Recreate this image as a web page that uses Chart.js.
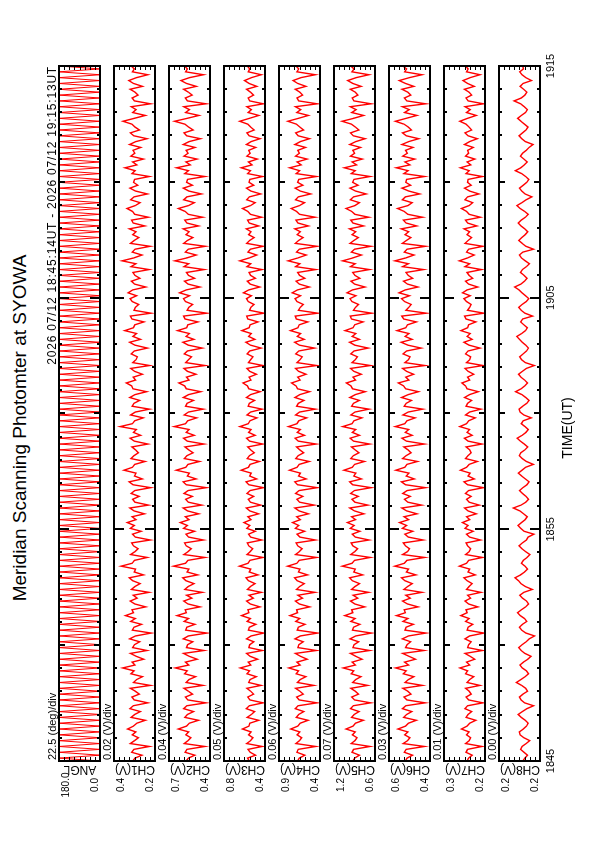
<!DOCTYPE html>
<html>
<head>
<meta charset="UTF-8" />
<title>Meridian Scanning Photomter at SYOWA</title>
<style>
  html, body { margin: 0; padding: 0; background: #fff; overflow: hidden; }
  body { width: 595px; height: 842px; position: relative; font-family: "Liberation Sans", Arial, Helvetica, sans-serif; }
  /* the plot is laid out in landscape and turned a quarter left */
  #land { position: absolute; left: 0; top: 842px; width: 842px; height: 595px; transform-origin: 0 0; transform: rotate(-90deg); }
  #land canvas { position: absolute; }
  .t { position: absolute; white-space: nowrap; color: #000; line-height: 1; }
</style>
</head>
<body>
<div id="land"></div>
<script src="https://cdn.jsdelivr.net/npm/chart.js"></script>
<script>
const title = 'Meridian Scanning Photomter at SYOWA';
const period = '2026 07/12 18:45:14UT - 2026 07/12 19:15:13UT';
const timeTitle = 'TIME(UT)';
const timeLabels = ['1845', '1855', '1905', '1915'];
const spanMin = 30;

const names = ['ANGL', 'CH1(V)', 'CH2(V)', 'CH3(V)', 'CH4(V)', 'CH5(V)', 'CH6(V)', 'CH7(V)', 'CH8(V)'];
const perDiv = [22.5, 0.02, 0.04, 0.05, 0.06, 0.07, 0.03, 0.01, 0.004];
const yMin = [0, 0.24, 0.38, 0.40, 0.42, 0.60, 0.36, 0.20, 0.180];
const yMax = [180, 0.40, 0.70, 0.80, 0.90, 1.16, 0.60, 0.28, 0.212];

// scan angle (deg), turning points
const angl = [
  0,180,0,180,0,180,0,180,0,180,0,180,0,180,0,180,0,180,0,180,
  0,180,0,180,0,180,0,180,0,180,0,180,0,180,0,180,0,180,0,180,
  0,180,0,180,0,180,0,180,0,180,0,180,0,180,0,180,0,180,0,180,
  0,180,0,180,0,180,0,180,0,180,0,180,0,180,0,180,0,180,0,180,
  0,180,0,180,0,180,0,180,0,180,0,180,0,180,0,180,0,180,0,180,
  0,180,0,180,0,180,0,180,0,180,0,180,0,180,0,180,0,180,0,180,
  0,180,0,180,0,180,0,180,0,180,0,180,0,180,0,180,0,180,0,180,
  0,180,0,180,0,180,0,180,0,180,0,180,0,180,0,180,0,180,0,180,
  0,180,0,180,0,180,0,180,0,180,0,180,0,180,0,180,0,180,0,180,
  0,180,0,180,0,180,0,180,0,180,0,180,0,180,0,180,0,180,0,180,
  0,180,0,180,0,180,0,180,0,180,0,180,0,180,0,180,0,180,0,180,
  0,180,0,180,0,180,0,180,0,180,0,180,0,180,0,180,0,180,0,180
];

// channel outputs in mV (CH8 in 0.1 mV)
const ch1 = [
  327,318,291,331,322,262,336,320,305,329, 315,347,324,311,278,333,319,297,338,325,
  268,321,330,301,317,336,258,324,312,289, 334,322,366,318,329,284,313,336,271,327,
  320,300,339,316,255,328,322,293,335,317, 355,324,330,276,319,337,310,325,264,332,
  318,298,327,340,285,321,316,372,329,320, 270,335,318,306,324,331,259,317,328,294,
  336,321,348,314,329,281,322,338,266,318, 327,302,333,319,257,326,341,290,320,314,
  361,328,319,279,334,322,305,316,330,268, 321,337,296,324,313,376,328,319,286,335,
  317,262,329,322,300,338,318,273,326,331, 352,316,325,289,320,335,261,327,314,309,
  333,321,270,318,339,297,326,312,358,324, 319,283,330,336,256,322,317,304,329,337,
  312,345,327,276,320,332,299,318,326,263, 334,315,368,323,291,329,318,259,336,321,
  303,327,314,340,280,325,331,266,319,328, 349,317,298,335,322,270,316,338,307,324,
  320,262,330,318,357,311,327,285,334,319, 326,296,339,315,271,323,336,301,318,330,
  365,321,278,327,314,333,258,320,329,306, 318,337,289,324,342,312,268,328,321,333
];
const ch2 = [
  566,548,498,574,560,421,581,552,530,569, 547,628,563,541,470,577,556,509,585,561,
  412,553,572,517,549,583,436,566,544,492, 579,558,651,546,571,480,542,586,428,563,
  555,515,588,549,404,570,561,497,582,548, 637,565,574,458,552,584,522,563,440,577,
  550,505,568,592,476,559,545,665,571,553, 419,584,551,526,566,579,431,547,568,501,
  586,557,612,544,572,468,555,589,445,549, 570,518,583,552,408,565,590,489,557,541,
  644,569,552,462,581,560,512,546,576,427, 558,587,503,566,543,659,570,554,484,582,
  548,433,571,559,509,588,547,452,565,578, 622,544,563,490,556,583,418,569,547,524,
  581,556,441,549,592,506,567,541,633,562, 553,474,575,586,405,558,545,515,571,587,
  540,618,566,459,552,579,500,548,563,426, 583,546,654,561,488,573,550,416,585,557,
  514,567,543,590,470,561,577,437,550,574, 627,548,503,585,560,447,545,588,518,562,
  556,420,577,549,641,534,568,481,584,551, 566,498,589,543,455,562,583,512,547,575,
  656,559,466,571,541,584,411,556,572,519, 549,586,487,563,607,540,432,570,556,580
];
const ch3 = [
  552,571,493,545,566,428,579,541,518,560, 537,620,556,549,461,574,533,502,582,553,
  418,547,568,511,540,577,439,559,546,485, 575,550,641,538,563,472,545,580,426,557,
  549,509,581,536,412,562,552,490,574,543, 628,558,567,450,544,579,515,556,437,571,
  542,498,561,585,468,553,539,649,566,547, 421,576,545,520,559,572,433,540,561,495,
  578,549,605,537,566,462,548,583,441,543, 563,511,576,545,415,558,584,482,550,535,
  633,562,546,455,574,552,505,540,569,423, 551,580,497,560,536,644,563,547,478,575,
  541,429,564,552,502,581,540,447,558,571, 615,537,556,484,549,576,420,562,540,517,
  574,549,438,542,586,499,560,534,625,555, 546,468,568,579,410,551,538,508,564,580,
  533,610,559,452,545,572,493,541,556,430, 576,539,646,554,481,566,543,419,578,550,
  507,560,536,583,463,554,570,432,543,567, 619,541,496,578,553,442,538,581,511,555,
  549,424,570,542,632,527,561,475,577,544, 559,491,582,536,449,555,576,505,540,568,
  647,552,460,564,534,577,416,549,565,512, 542,579,480,556,600,533,436,563,549,573
];
const ch4 = [
  683,662,598,691,675,470,702,660,635,688, 657,762,681,652,560,697,669,610,710,677,
  455,664,693,617,655,705,492,684,651,585, 699,671,785,653,690,571,648,708,463,679,
  667,616,712,650,448,686,674,596,703,658, 771,683,694,540,661,708,625,679,480,696,
  659,604,687,717,566,672,655,798,690,664, 460,706,662,630,681,700,475,655,688,600,
  709,668,742,651,693,556,664,714,488,660, 690,621,705,665,452,682,715,582,671,649,
  778,688,663,548,704,676,612,657,695,466, 674,711,603,686,650,790,690,668,575,706,
  660,474,694,674,609,713,656,541,683,701, 752,652,680,584,670,707,458,689,655,628,
  703,669,485,661,717,604,687,648,766,678, 664,563,697,710,446,673,652,617,690,712,
  648,746,684,545,663,700,598,659,682,470, 706,657,793,679,582,695,662,455,709,671,
  618,688,651,715,556,677,701,478,660,694, 758,660,602,707,674,530,652,711,622,683,
  669,462,698,658,776,640,688,571,705,662, 680,590,713,650,543,676,704,613,655,696,
  796,673,556,692,647,707,452,670,689,623, 656,709,585,681,735,643,476,690,669,702
];
const ch5 = [
  903,878,812,914,893,668,926,874,845,909, 871,996,900,866,760,921,884,818,935,897,
  660,880,917,826,870,930,702,906,864,793, 925,890,1032,868,912,776,862,936,672,901,
  885,824,940,864,648,908,893,806,929,872, 1012,904,918,740,876,934,835,899,688,920,
  873,811,910,946,768,889,869,1048,914,880, 664,932,877,838,902,925,682,868,911,808,
  937,884,978,866,919,752,881,944,697,874, 914,829,932,881,652,905,946,787,890,862,
  1024,911,879,745,931,896,820,871,921,673, 893,940,812,909,864,1040,913,887,779,930,
  874,683,920,895,815,943,869,733,907,928, 990,866,901,789,888,934,662,914,869,840,
  931,885,694,875,947,812,911,862,1008,899, 878,763,922,938,645,894,866,826,915,941,
  860,982,907,738,879,928,806,873,904,676, 935,870,1044,903,786,922,878,657,940,889,
  828,912,864,949,757,900,930,687,874,918, 996,874,813,937,893,722,866,942,831,906,
  887,668,924,871,1018,852,913,774,935,879, 902,797,945,862,736,897,934,820,868,921,
  1050,893,755,917,859,938,654,888,912,834, 869,938,790,903,972,857,684,915,886,930
];
const ch6 = [
  505,494,462,511,500,392,517,491,478,508, 489,548,503,486,440,514,497,467,521,502,
  388,495,512,471,490,519,405,506,487,455, 516,499,561,485,509,445,483,520,395,503,
  494,473,522,486,384,506,500,458,518,489, 556,504,511,430,492,521,476,501,408,513,
  491,464,507,527,443,498,486,566,510,495, 391,520,492,480,504,516,400,487,507,461,
  522,497,538,485,512,436,496,525,410,490, 509,475,519,494,386,503,527,452,499,483,
  560,508,495,433,520,500,471,489,513,393, 498,524,464,505,485,563,508,495,447,518,
  488,402,511,499,468,526,487,428,503,515, 545,484,502,456,497,520,389,507,486,477,
  518,497,412,489,529,465,506,483,553,502, 492,440,514,525,382,501,484,470,509,527,
  480,541,505,431,492,515,462,488,501,398, 521,487,565,502,454,510,494,386,522,498,
  472,506,485,528,438,500,516,404,490,511, 550,489,465,522,504,420,484,524,474,502,
  497,392,513,488,557,478,507,449,520,493, 503,459,525,485,426,499,521,469,487,512,
  562,500,437,509,482,522,385,496,510,473, 490,524,455,503,540,481,407,508,497,519
];
const ch7 = [
  235,232,225,237,234,206,238,231,228,236, 231,246,235,230,218,237,233,226,239,234,
  204,232,237,227,231,238,210,235,230,222, 238,234,249,230,236,220,229,239,205,234,
  232,227,239,230,202,235,233,224,238,231, 247,235,237,214,232,239,228,234,208,236,
  231,225,235,241,219,233,230,250,236,232, 205,238,231,228,234,237,209,230,236,223,
  239,233,244,230,236,217,233,240,211,231, 236,227,238,232,203,234,241,221,233,229,
  248,236,231,215,238,233,227,230,237,206, 233,240,225,235,230,249,236,232,219,238,
  230,208,237,234,226,240,230,213,235,238, 245,230,234,222,233,239,204,236,230,228,
  238,233,210,231,241,225,235,229,247,234, 232,218,237,240,202,234,230,227,236,241,
  229,244,235,214,232,238,224,231,235,207, 239,230,250,234,221,236,232,204,239,233,
  226,235,230,241,216,234,238,209,231,236, 246,231,224,239,234,212,230,240,227,234,
  233,205,237,231,248,228,235,220,238,232, 234,223,240,230,215,233,239,226,231,237,
  249,234,217,236,229,239,203,233,237,226, 231,240,221,234,243,229,210,236,233,238
];
const ch8 = [
  1935,1918,1898,1925,1952,1940,1908,1880,1926,1955, 1962,1930,1905,1892,1915,1946,1970,1938,1902,1850,
  1921,1948,1960,1933,1897,1912,1944,1985,1950,1916, 1890,1906,1938,1957,1929,1895,1870,1918,1947,1966,
  1940,1908,1884,1842,1910,1943,1961,1937,1903,1921, 1954,1975,1946,1912,1889,1905,1936,1958,1926,1860,
  1915,1949,1968,1995,1952,1920,1898,1917,1945,1930, 1901,1878,1912,1941,1963,1938,1906,1893,1848,1924,
  1950,1972,1944,1916,1900,1928,1957,2008,1948,1911, 1889,1909,1936,1960,1934,1902,1885,1914,1943,1969,
  1941,1913,1852,1906,1938,1962,1950,1918,1896,1923, 1953,1978,1940,1910,1892,1917,1946,1931,1868,1927,
  1956,1964,1935,1904,1886,1911,1942,1990,1947,1919, 1897,1920,1949,1967,1938,1907,1845,1915,1944,1958,
  1932,1905,1890,1912,1939,1960,1981,1944,1913,1899, 1926,1951,1936,1858,1918,1947,1966,1940,1908,1887,
  1913,1940,1963,1998,1949,1921,1901,1924,1952,1937, 1906,1882,1915,1945,1961,1934,1850,1910,1939,1965,
  1942,1916,1895,1919,1948,1970,1946,1914,1892,1920, 1955,1980,1941,1908,1863,1917,1943,1960,1931,1903,
  1888,1912,1944,1992,1950,1922,1900,1926,1953,1936, 1907,1885,1855,1914,1942,1963,1937,1909,1894,1921,
  1949,1974,1945,1913,1898,1923,1951,2002,1946,1918, 1902,1928,1955,1932,1866,1911,1940,1958,1929,1935
];
const series = [angl, ch1, ch2, ch3, ch4, ch5, ch6, ch7, ch8];
const unitScale = [1, 0.001, 0.001, 0.001, 0.001, 0.001, 0.001, 0.001, 0.0001];

// layout (landscape px)
const PX0 = 81, PW = 695, PTOP0 = 59, PSTEP = 55, PH = 41;
const FONT = '"Liberation Sans", Arial, Helvetica, sans-serif';
Chart.defaults.font.family = FONT;

const land = document.getElementById('land');

function addText(txt, x, y, size, align, rot, spacing) {
  const d = document.createElement('div');
  d.className = 't';
  d.textContent = txt;
  d.style.left = x + 'px';
  d.style.top = y + 'px';
  d.style.fontSize = size + 'px';
  if (spacing) d.style.letterSpacing = spacing + 'px';
  const tx = align === 'left' ? '0' : align === 'right' ? '-100%' : '-50%';
  d.style.transform = 'translate(' + tx + ',-50%)' + (rot ? ' rotate(' + rot + 'deg)' : '');
  land.appendChild(d);
}

// frame plus inward ticks for each strip
const panelFrame = {
  id: 'panelFrame',
  afterDatasetsDraw(chart, args, opts) {
    const ctx = chart.ctx, a = chart.chartArea;
    const x = chart.scales.x, y = chart.scales.y;
    ctx.save();
    ctx.strokeStyle = '#000';
    ctx.lineWidth = 2;
    ctx.beginPath();
    for (let m = 1; m < spanMin; m++) {
      const px = Math.round(x.getPixelForValue(m));
      const len = m % 10 === 0 ? 10 : (m % 5 === 0 ? 6 : 3);
      ctx.moveTo(px, a.top); ctx.lineTo(px, a.top + len);
      ctx.moveTo(px, a.bottom); ctx.lineTo(px, a.bottom - len);
    }
    ctx.stroke();
    ctx.lineWidth = 1;
    ctx.beginPath();
    for (let d = 1; d < 8; d++) {
      const py = Math.round(y.getPixelForValue(opts.min + d * opts.div)) + 0.5;
      ctx.moveTo(a.left, py); ctx.lineTo(a.left + 4, py);
      ctx.moveTo(a.right, py); ctx.lineTo(a.right - 4, py);
    }
    ctx.stroke();
    ctx.lineWidth = 2;
    ctx.strokeRect(a.left, a.top, a.right - a.left, a.bottom - a.top);
    ctx.restore();
  }
};

names.forEach((nm, i) => {
  const last = i === names.length - 1;
  const top = PTOP0 + i * PSTEP;
  const padX = 20, padY = 4, axisH = 20;
  const w = PW + 2 * padX;
  const h = PH + padY + (last ? axisH : padY);
  const cv = document.createElement('canvas');
  cv.width = w; cv.height = h;
  cv.style.left = (PX0 - padX) + 'px';
  cv.style.top = (top - padY) + 'px';
  cv.style.width = w + 'px';
  cv.style.height = h + 'px';
  land.appendChild(cv);

  const vals = series[i];
  const k = unitScale[i];
  const pts = vals.map((v, j) => ({ x: spanMin * j / (vals.length - 1), y: v * k }));

  const xAxis = {
    type: 'linear', min: 0, max: spanMin, display: last,
    grid: { display: false, drawTicks: false },
    border: { display: false },
    ticks: { stepSize: 10, autoSkip: false, maxRotation: 0, padding: 4, color: '#000',
             font: { size: 11 }, callback: v => timeLabels[v / 10] }
  };
  if (last) xAxis.afterFit = s => { s.height = axisH; };

  new Chart(cv, {
    type: 'line',
    data: { datasets: [{ data: pts, borderColor: '#ff0000', borderWidth: i === 0 ? 1 : 1.4,
                         pointRadius: 0, tension: 0, clip: 0 }] },
    options: {
      responsive: false,
      animation: false,
      events: [],
      layout: { padding: { left: padX, right: padX, top: padY, bottom: last ? 0 : padY } },
      plugins: {
        legend: { display: false },
        tooltip: { enabled: false },
        panelFrame: { min: yMin[i], div: perDiv[i] }
      },
      scales: {
        x: xAxis,
        y: { min: yMin[i], max: yMax[i], display: false }
      }
    },
    plugins: [panelFrame]
  });

  // per-strip texts
  const divTxt = i === 0 ? perDiv[i].toFixed(1) + ' (deg)/div' : perDiv[i].toFixed(2) + ' (V)/div';
  addText(divTxt, PX0 + 1, top - 7, 11, 'left');
  addText(yMax[i].toFixed(1), 57, top + 7, 10, 'center');
  addText(yMin[i].toFixed(1), 57, top + PH - 5, 10, 'center');
  addText(nm, 72, top + PH / 2, 12, 'center', -90);
});

addText(title, 414, 19, 19, 'center');
addText(period, PX0 + PW, 52, 12, 'right', 0, 0.8);
addText(timeTitle, 414, 567, 14, 'center');
</script>
</body>
</html>
